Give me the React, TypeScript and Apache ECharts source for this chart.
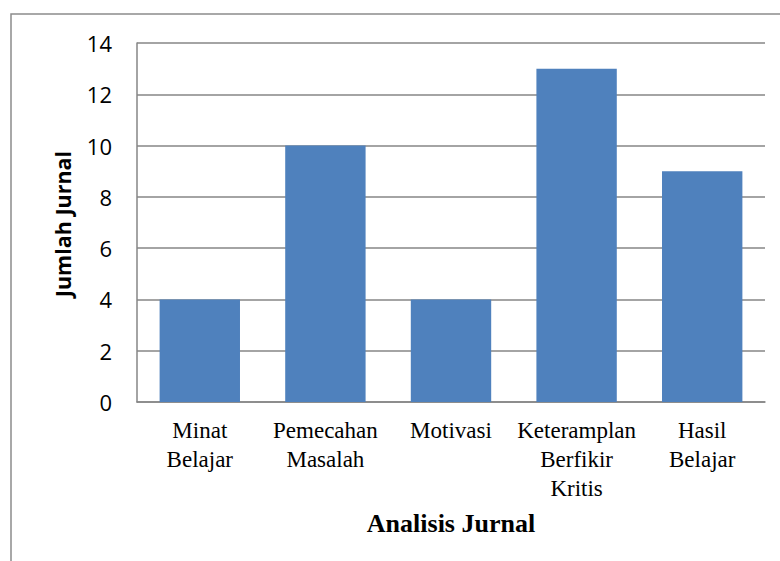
import React, { useEffect, useRef } from "react";
import * as echarts from "echarts";

const categories = [
  "Minat\nBelajar",
  "Pemecahan\nMasalah",
  "Motivasi",
  "Keteramplan\nBerfikir\nKritis",
  "Hasil\nBelajar",
];
const values = [4, 10, 4, 13, 9];
const yTicks = { min: 0, max: 14, interval: 2 };
const xTitle = "Analisis Jurnal";
const yTitle = "Jumlah Jurnal";

export default function App() {
  const ref = useRef<HTMLDivElement>(null);
  useEffect(() => {
    document.body.style.margin = "0";
    const chart = echarts.init(ref.current!, undefined, { renderer: "svg" });
    chart.setOption({
      animation: false,
      backgroundColor: "#ffffff",
      grid: { left: 137, right: 15, top: 43, bottom: 159, containLabel: false },
      xAxis: {
        type: "category",
        data: categories,
        axisLine: { lineStyle: { color: "#868686", width: 1.5 } },
        axisTick: { show: false },
        axisLabel: {
          interval: 0,
          color: "#000",
          fontFamily: "Liberation Serif",
          fontSize: 23,
          lineHeight: 29,
          margin: 14,
        },
      },
      yAxis: {
        type: "value",
        min: yTicks.min,
        max: yTicks.max,
        interval: yTicks.interval,
        axisLine: { show: true, lineStyle: { color: "#868686", width: 1.5 } },
        axisTick: { show: false },
        splitLine: { lineStyle: { color: "#868686", width: 1.5 } },
        axisLabel: {
          color: "#000",
          fontFamily: "Open Sans",
          fontSize: 22,
          margin: 25,
        },
      },
      series: [
        {
          type: "bar",
          data: values,
          barCategoryGap: "36%",
          itemStyle: { color: "#4F81BD" },
        },
      ],
      graphic: [
        {
          type: "rect",
          shape: { x: 11, y: 14, width: 900, height: 700 },
          style: { fill: "none", stroke: "#8c8c8c", lineWidth: 1.5 },
          silent: true,
          z: -1,
        },
        {
          type: "text",
          x: 451,
          y: 523,
          style: {
            text: xTitle,
            fontFamily: "Liberation Serif",
            fontWeight: "bold",
            fontSize: 26,
            fill: "#000",
            align: "center",
            verticalAlign: "middle",
          },
        },
        {
          type: "text",
          x: 62,
          y: 224,
          rotation: Math.PI / 2,
          style: {
            text: yTitle,
            fontFamily: "Open Sans",
            fontWeight: "bold",
            fontSize: 21.5,
            fill: "#000",
            align: "center",
            verticalAlign: "middle",
          },
        },
      ],
    });
    return () => chart.dispose();
  }, []);
  return <div ref={ref} style={{ width: 780, height: 561 }} />;
}
